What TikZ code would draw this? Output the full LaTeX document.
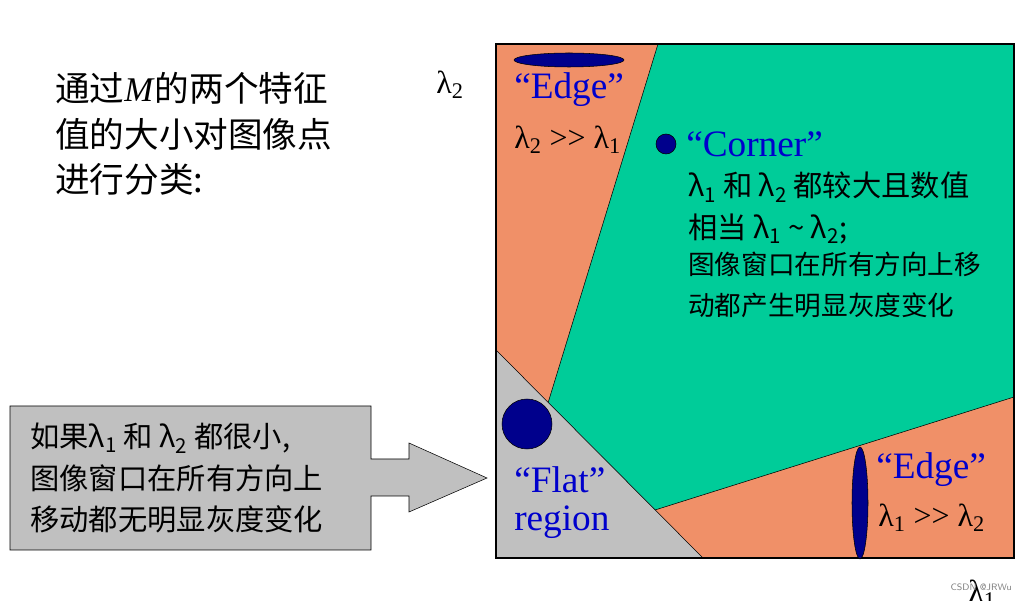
\documentclass[tikz,border=0pt]{standalone}
\usepackage{fontspec}
\setmainfont{Liberation Serif}
\newfontfamily\cjk{Noto Sans CJK SC}
\begin{document}
\begin{tikzpicture}[x=0.0264cm,y=-0.0264cm,
  lab/.style={anchor=west,inner sep=0pt,text=black,font=\fontsize{24}{30}\selectfont},
  blu/.style={anchor=west,inner sep=0pt,text=blue!80!black,font=\fontsize{28}{32}\selectfont},
  zh/.style={anchor=west,inner sep=0pt,align=left,font=\cjk\fontsize{22}{31}\selectfont},
  dot/.style={fill=blue!55!black,draw=black,thin}]
\useasboundingbox (0,0) rectangle (1024,601);
\definecolor{org}{RGB}{240,144,104}
\definecolor{grn}{RGB}{0,204,153}
\definecolor{gry}{RGB}{192,192,192}
\fill[org] (496,44) rectangle (1014,558);
\fill[grn,draw=black] (658,44) -- (1014,44) -- (1014,397) -- (655,510) -- (548,403) -- cycle;
\fill[gry,draw=black] (496,350) -- (703,558) -- (496,558) -- cycle;
\draw[thick] (496,44) rectangle (1014,558);
\fill[dot] (569,60) ellipse (55 and 7);
\fill[dot] (666,144) circle (10);
\fill[dot] (527,424) circle (25);
\fill[dot] (860,503) ellipse (8 and 56);
\node[blu] (e1) at (514,90) {“Edge”};
\node[lab] (l1) at (514,140) {λ\textsubscript{2} {>}{>} λ\textsubscript{1}};
\node[blu] (c) at (686,144) {“Corner”};
\node[zh] (ct) at (688,245) {λ\textsubscript{1} 和 λ\textsubscript{2} 都较大且数值\\相当 λ\textsubscript{1} \char`~\ λ\textsubscript{2};\\[-4pt]{\fontsize{20}{28}\selectfont 图像窗口在所有方向上移}\\{\fontsize{20}{28}\selectfont 动都产生明显灰度变化}};
\node[blu] (f) at (514,480) {“Flat”};
\node[blu] (r) at (514,522) {region};
\node[blu] (e2) at (876,470) {“Edge”};
\node[lab] (l2) at (878,518) {λ\textsubscript{1} {>}{>} λ\textsubscript{2}};
\node[lab] (la2) at (436,85) {λ\textsubscript{2}};
\node[lab] (la1) at (968,594) {λ\textsubscript{1}};
\node[anchor=east,inner sep=0pt,font=\sffamily\fontsize{7}{8}\selectfont,text=gray] (w) at (1012,587) {CSDN @JRWu};
\node[zh,font=\cjk\fontsize{26}{34}\selectfont] (t) at (55,134) {通过\textit{\rmfamily M}的两个特征\\值的大小对图像点\\进行分类:};
\draw[fill=gry] (10,406) -- (371,406) -- (371,459) -- (409,459) -- (409,443) -- (487,478) -- (409,512) -- (409,496) -- (371,496) -- (371,550) -- (10,550) -- cycle;
\node[zh] (g) at (30,478) {如果λ\textsubscript{1} 和 λ\textsubscript{2} 都很小,\\图像窗口在所有方向上\\移动都无明显灰度变化};
\end{tikzpicture}
\end{document}
